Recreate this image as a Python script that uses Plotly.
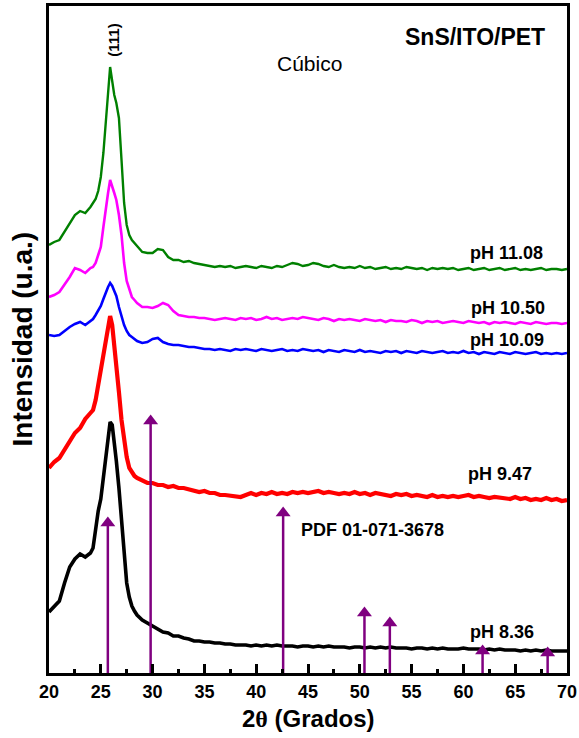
import plotly.graph_objects as go

# 2theta grid (degrees)
two_theta = ([20, 20.5, 21, 21.5, 22, 22.5, 23, 23.5,
              24, 24.25, 24.5, 24.75, 25, 25.25, 25.5, 25.7, 25.9, 26.1, 26.3, 26.5,
              26.75, 27, 27.25, 27.5, 27.75, 28, 28.25, 28.5]
             + [29 + 0.5 * i for i in range(83)])

# intensities (arbitrary units, stacked as in the figure)
ph_1108 = [428, 431, 433, 441, 450, 458, 462, 460,
           466, 470, 474, 482, 496, 520, 556, 586, 606, 592, 578, 570,
           555, 513, 470, 448, 438, 433, 430, 426,
           421, 420, 420, 424, 423, 416, 413, 413, 411, 412,
           410, 409, 408, 407, 406, 407, 406, 407, 405, 406,
           407, 406, 405, 407, 406, 405, 407, 406, 408, 410,
           409, 407, 408, 410, 409, 407, 406, 408, 406, 405,
           406, 405, 407, 405, 406, 404, 405, 406, 404, 405,
           404, 406, 405, 404, 405, 403, 405, 404, 405, 404,
           405, 403, 404, 405, 403, 404, 405, 403, 404, 405,
           403, 404, 405, 403, 404, 403, 404, 405, 403, 404,
           404, 403, 404]

ph_1050 = [376, 378, 381, 388, 396, 405, 403, 400,
           405, 406, 410, 418, 426, 446, 468, 480, 493, 485, 480, 473,
           458, 438, 410, 392, 383, 376, 373, 370,
           366, 366, 365, 367, 370, 368, 362, 358, 357, 356,
           356, 355, 355, 354, 353, 354, 355, 354, 353, 355,
           354, 355, 353, 354, 356, 354, 355, 353, 354, 355,
           354, 356, 355, 354, 353, 355, 354, 352, 354, 353,
           354, 353, 352, 354, 353, 352, 353, 351, 353, 352,
           352, 351, 353, 352, 350, 352, 351, 352, 350, 351,
           352, 351, 350, 352, 351, 350, 351, 349, 351, 350,
           351, 350, 349, 351, 350, 349, 351, 350, 349, 350,
           350, 349, 350]

ph_1009 = [338, 337, 338, 342, 346, 349, 351, 348,
           352, 354, 358, 362, 367, 374, 381, 386, 390, 387, 382, 377,
           366, 356, 348, 342, 338, 336, 334, 332,
           330, 331, 334, 335, 331, 329, 328, 328, 327, 326,
           326, 325, 324, 324, 323, 324, 323, 322, 324, 323,
           324, 323, 322, 324, 323, 322, 323, 324, 322, 323,
           322, 324, 323, 322, 323, 321, 323, 322, 321, 323,
           322, 321, 323, 321, 322, 321, 320, 322, 321, 322,
           320, 322, 321, 320, 322, 321, 320, 321, 322, 320,
           321, 320, 322, 320, 321, 319, 321, 320, 319, 321,
           320, 319, 321, 320, 319, 320, 321, 319, 320, 319,
           320, 319, 320]

ph_947 = [205, 211, 215, 224, 232, 240, 245, 254,
          260, 263, 273, 288, 303, 321, 338, 351, 357, 348, 330, 308,
          281, 253, 233, 216, 205, 200, 197, 195,
          193, 190, 190, 188, 188, 186, 187, 185, 185, 184,
          183, 181, 182, 180, 180, 178, 178, 177, 177, 176,
          178, 180, 178, 180, 179, 181, 179, 180, 179, 181,
          180, 181, 180, 181, 182, 180, 181, 180, 179, 180,
          179, 181, 179, 180, 178, 180, 179, 179, 177, 179,
          178, 179, 177, 178, 177, 176, 178, 176, 177, 176,
          177, 176, 177, 178, 176, 177, 176, 175, 176, 175,
          175, 174, 176, 174, 175, 173, 174, 173, 175, 173,
          174, 172, 173]

ph_836 = [61, 67, 72, 90, 106, 114, 119, 116,
          120, 125, 145, 162, 174, 194, 216, 236, 251, 248, 232, 212,
          185, 150, 118, 90, 76, 67, 62, 58,
          53, 50, 46, 44, 41, 40, 37, 37, 35, 34,
          32, 32, 31, 31, 30, 30, 29, 29, 28, 28,
          28, 27, 28, 27, 28, 27, 28, 27, 27, 27,
          26, 27, 27, 26, 27, 26, 27, 26, 26, 26,
          25, 26, 26, 25, 26, 25, 26, 25, 26, 25,
          25, 25, 24, 25, 25, 24, 25, 24, 25, 24,
          24, 24, 25, 24, 24, 24, 23, 24, 23, 24,
          23, 23, 23, 22, 23, 22, 23, 22, 23, 22,
          22, 22, 22]

# reference pattern PDF 01-071-3678 (positions and bar heights)
pdf_pos = [25.68, 29.81, 42.6, 50.45, 52.9, 61.85, 68.13]
pdf_height = [156, 258, 166, 66, 56, 28, 26]

series = [
    ("pH 8.36", ph_836, "#000000", 3.6),
    ("pH 9.47", ph_947, "#ff0000", 4.2),
    ("pH 10.09", ph_1009, "#0000ff", 2.6),
    ("pH 10.50", ph_1050, "#ff00ff", 2.6),
    ("pH 11.08", ph_1108, "#008000", 2.4),
]
labels = [("pH 11.08", 64.2, 420), ("pH 10.50", 64.3, 365), ("pH 10.09", 64.2, 333),
          ("pH 9.47", 63.5, 199), ("pH 8.36", 63.7, 41)]

fig = go.Figure()
for name, ys, col, w in series:
    fig.add_trace(go.Scatter(x=two_theta, y=ys, mode="lines", name=name,
                             line=dict(color=col, width=w), showlegend=False))

purple = "#800080"
sx, sy = [], []
for p, h in zip(pdf_pos, pdf_height):
    sx += [p, p, None]
    sy += [0, h - 4, None]
fig.add_trace(go.Scatter(x=sx, y=sy, mode="lines", line=dict(color=purple, width=2.5),
                         showlegend=False, hoverinfo="skip"))
fig.add_trace(go.Scatter(x=pdf_pos, y=[h - 6 for h in pdf_height], mode="markers",
                         marker=dict(symbol="triangle-up", size=13, color=purple),
                         showlegend=False))

font_b = "Liberation Sans, Arial, sans-serif"
for txt, x, y in labels:
    fig.add_annotation(x=x, y=y, text="<b>" + txt + "</b>", showarrow=False,
                       font=dict(family=font_b, size=18, color="black"))
fig.add_annotation(x=51.2, y=143, text="<b>PDF 01-071-3678</b>", showarrow=False,
                   font=dict(family=font_b, size=18, color="black"))
fig.add_annotation(x=45.1, y=610, text="Cúbico", showarrow=False,
                   font=dict(family=font_b, size=21, color="black"))
fig.add_annotation(x=61.1, y=636, text="<b>SnS/ITO/PET</b>", showarrow=False,
                   font=dict(family=font_b, size=23, color="black"))
fig.add_annotation(x=26.15, y=633, text="<b>(111)</b>", showarrow=False, textangle=-90,
                   font=dict(family=font_b, size=15, color="black"))

# axis titles
fig.add_annotation(xref="paper", yref="paper", x=0.5, y=0, yshift=-45,
                   xanchor="center", yanchor="middle",
                   text="<b>2<span style='font-family:Liberation Serif'>θ</span> (Grados)</b>",
                   showarrow=False,
                   font=dict(family=font_b, size=24, color="black"))
fig.add_annotation(xref="paper", yref="paper", x=0, y=0.5, xshift=-27,
                   xanchor="center", yanchor="middle",
                   text="<b>Intensidad (u.a.)</b>", showarrow=False, textangle=-90,
                   font=dict(family=font_b, size=28, color="black"))

fig.update_layout(
    width=579, height=738,
    margin=dict(l=49, r=12, t=6, b=65, autoexpand=False),
    paper_bgcolor="white", plot_bgcolor="white",
    font=dict(family=font_b, color="black"),
    xaxis=dict(range=[20, 70], dtick=5, tick0=20, ticks="inside", ticklen=9,
               tickwidth=2.5, tickcolor="black", showline=True, linewidth=3,
               linecolor="black", mirror=True, showgrid=False, zeroline=False,
               automargin=False,
               tickfont=dict(family=font_b, size=18, color="black", weight="bold"),
               ticklabelstandoff=0,
               minor=dict(dtick=2.5, ticks="inside", ticklen=4, tickwidth=2.5,
                          tickcolor="black", showgrid=False)),
    yaxis=dict(range=[0, 667], showticklabels=False, ticks="", showline=True,
               linewidth=3, linecolor="black", mirror=True, showgrid=False,
               zeroline=False, automargin=False),
)

fig.write_html("out.html", config={"displayModeBar": False},
               post_script="document.body.style.margin='0';")
